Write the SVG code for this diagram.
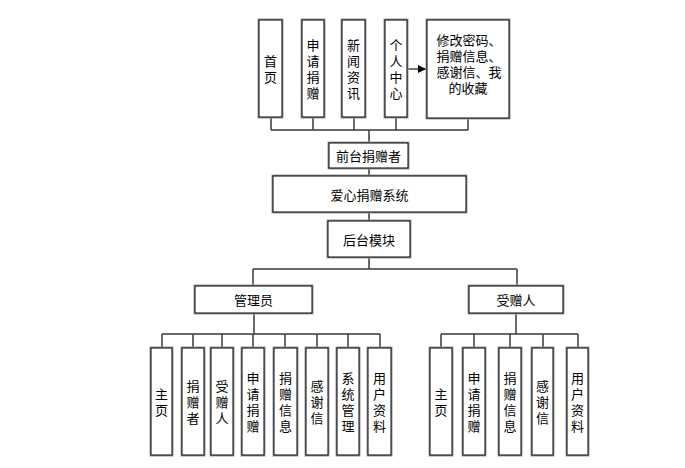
<svg xmlns="http://www.w3.org/2000/svg" width="685" height="468" viewBox="0 0 685 468">
<style>
.bx{fill:#fff;stroke:#000;stroke-width:1}
.sh{fill:none;stroke:#9a9a9a;stroke-width:3}
.t{font-family:"Noto Sans CJK SC","Microsoft YaHei",sans-serif;font-size:13px;fill:#000;text-anchor:middle;dominant-baseline:central}
.m{font-family:"Liberation Sans","Noto Sans CJK SC",sans-serif;font-size:13px;fill:#000;text-anchor:middle;dominant-baseline:central}
.c{fill:none;stroke:#3a3a3a;stroke-width:1.5}
</style>
<defs>
<marker id="ah" viewBox="0 0 10 10" refX="10" refY="5" markerWidth="10" markerHeight="8" markerUnits="userSpaceOnUse" orient="auto">
<path d="M0,0 L10,5 L0,10 z" fill="#000"/>
</marker>
</defs>
<rect width="685" height="468" fill="#fff"/>
<g id="connectors">
<path class="c" d="M271,117V130M313,117V130M354,117V130M396,117V130M468,118V130M271,130H468M369,130V143"/>
<path class="c" d="M369,168V176M369,212V221M369,257V269M253,269H517M253,269V286M517,269V286"/>
<path class="c" d="M254,313V334M162,334H380M162,334V348M193,334V348M222,334V348M253,334V348M285,334V348M317,334V348M348,334V348M380,334V348"/>
<path class="c" d="M516,313V334M441,334H578M441,334V348M474,334V348M510,334V348M543,334V348M578,334V348"/>
<path d="M407,69H426" stroke="#777" stroke-width="2" fill="none" marker-end="url(#ah)"/>
</g>
<g id="n-shouye">
<rect class="sh" x="259" y="20" width="23" height="97"/><rect class="bx" x="259" y="20" width="23" height="97"/>
<text class="m"><tspan x="270.5" y="60.5">首</tspan><tspan x="270.5" y="76.5">页</tspan></text>
</g>
<g id="n-shenqing">
<rect class="sh" x="302" y="20" width="22" height="97"/><rect class="bx" x="302" y="20" width="22" height="97"/>
<text class="m"><tspan x="313" y="44.5">申</tspan><tspan x="313" y="60.5">请</tspan><tspan x="313" y="76.5">捐</tspan><tspan x="313" y="92.5">赠</tspan></text>
</g>
<g id="n-xinwen">
<rect class="sh" x="342" y="20" width="23" height="97"/><rect class="bx" x="342" y="20" width="23" height="97"/>
<text class="m"><tspan x="353.5" y="44.5">新</tspan><tspan x="353.5" y="60.5">闻</tspan><tspan x="353.5" y="76.5">资</tspan><tspan x="353.5" y="92.5">讯</tspan></text>
</g>
<g id="n-geren">
<rect class="sh" x="385" y="20" width="22" height="97"/><rect class="bx" x="385" y="20" width="22" height="97"/>
<text class="m"><tspan x="396" y="44.5">个</tspan><tspan x="396" y="60.5">人</tspan><tspan x="396" y="76.5">中</tspan><tspan x="396" y="92.5">心</tspan></text>
</g>
<g id="n-xiugai">
<rect class="sh" x="427" y="20" width="82" height="98"/><rect class="bx" x="427" y="20" width="82" height="98"/>
<text class="m" x="469" y="40">修改密码、</text>
<text class="m" x="469" y="56">捐赠信息、</text>
<text class="m" x="469" y="72">感谢信、我</text>
<text class="m" x="468" y="88">的收藏</text>
</g>
<g id="n-qiantai">
<rect class="sh" x="329" y="143" width="79" height="25"/><rect class="bx" x="329" y="143" width="79" height="25"/>
<text class="t" x="368.5" y="155.5">前台捐赠者</text>
</g>
<g id="n-xitong">
<rect class="sh" x="273" y="176" width="193" height="36"/><rect class="bx" x="273" y="176" width="193" height="36"/>
<text class="t" x="369.5" y="194">爱心捐赠系统</text>
</g>
<g id="n-houtai">
<rect class="sh" x="328" y="221" width="82" height="36"/><rect class="bx" x="328" y="221" width="82" height="36"/>
<text class="t" x="369" y="239">后台模块</text>
</g>
<g id="n-guanli">
<rect class="sh" x="195" y="286" width="117" height="27"/><rect class="bx" x="195" y="286" width="117" height="27"/>
<text class="t" x="253.5" y="299.5">管理员</text>
</g>
<g id="n-shouzeng">
<rect class="sh" x="469" y="286" width="94" height="27"/><rect class="bx" x="469" y="286" width="94" height="27"/>
<text class="t" x="516" y="299.5">受赠人</text>
</g>
<g id="a-zhuye">
<rect class="sh" x="151" y="348" width="21" height="107"/><rect class="bx" x="151" y="348" width="21" height="107"/>
<text class="m"><tspan x="161.5" y="393.5">主</tspan><tspan x="161.5" y="409.5">页</tspan></text>
</g>
<g id="a-juanzengzhe">
<rect class="sh" x="182" y="348" width="22" height="107"/><rect class="bx" x="182" y="348" width="22" height="107"/>
<text class="m"><tspan x="193" y="385.5">捐</tspan><tspan x="193" y="401.5">赠</tspan><tspan x="193" y="417.5">者</tspan></text>
</g>
<g id="a-shouzengren">
<rect class="sh" x="211" y="348" width="22" height="107"/><rect class="bx" x="211" y="348" width="22" height="107"/>
<text class="m"><tspan x="222" y="385.5">受</tspan><tspan x="222" y="401.5">赠</tspan><tspan x="222" y="417.5">人</tspan></text>
</g>
<g id="a-shenqing">
<rect class="sh" x="242" y="348" width="22" height="107"/><rect class="bx" x="242" y="348" width="22" height="107"/>
<text class="m"><tspan x="253" y="377.5">申</tspan><tspan x="253" y="393.5">请</tspan><tspan x="253" y="409.5">捐</tspan><tspan x="253" y="425.5">赠</tspan></text>
</g>
<g id="a-xinxi">
<rect class="sh" x="274" y="348" width="23" height="107"/><rect class="bx" x="274" y="348" width="23" height="107"/>
<text class="m"><tspan x="285.5" y="377.5">捐</tspan><tspan x="285.5" y="393.5">赠</tspan><tspan x="285.5" y="409.5">信</tspan><tspan x="285.5" y="425.5">息</tspan></text>
</g>
<g id="a-ganxie">
<rect class="sh" x="306" y="348" width="22" height="107"/><rect class="bx" x="306" y="348" width="22" height="107"/>
<text class="m"><tspan x="317" y="385.5">感</tspan><tspan x="317" y="401.5">谢</tspan><tspan x="317" y="417.5">信</tspan></text>
</g>
<g id="a-xitong">
<rect class="sh" x="337" y="348" width="22" height="107"/><rect class="bx" x="337" y="348" width="22" height="107"/>
<text class="m"><tspan x="348" y="377.5">系</tspan><tspan x="348" y="393.5">统</tspan><tspan x="348" y="409.5">管</tspan><tspan x="348" y="425.5">理</tspan></text>
</g>
<g id="a-ziliao">
<rect class="sh" x="368" y="348" width="23" height="107"/><rect class="bx" x="368" y="348" width="23" height="107"/>
<text class="m"><tspan x="379.5" y="377.5">用</tspan><tspan x="379.5" y="393.5">户</tspan><tspan x="379.5" y="409.5">资</tspan><tspan x="379.5" y="425.5">料</tspan></text>
</g>
<g id="b-zhuye">
<rect class="sh" x="430" y="348" width="22" height="107"/><rect class="bx" x="430" y="348" width="22" height="107"/>
<text class="m"><tspan x="441" y="393.5">主</tspan><tspan x="441" y="409.5">页</tspan></text>
</g>
<g id="b-shenqing">
<rect class="sh" x="463" y="348" width="22" height="107"/><rect class="bx" x="463" y="348" width="22" height="107"/>
<text class="m"><tspan x="474" y="377.5">申</tspan><tspan x="474" y="393.5">请</tspan><tspan x="474" y="409.5">捐</tspan><tspan x="474" y="425.5">赠</tspan></text>
</g>
<g id="b-xinxi">
<rect class="sh" x="499" y="348" width="22" height="107"/><rect class="bx" x="499" y="348" width="22" height="107"/>
<text class="m"><tspan x="510" y="377.5">捐</tspan><tspan x="510" y="393.5">赠</tspan><tspan x="510" y="409.5">信</tspan><tspan x="510" y="425.5">息</tspan></text>
</g>
<g id="b-ganxie">
<rect class="sh" x="532" y="348" width="21" height="107"/><rect class="bx" x="532" y="348" width="21" height="107"/>
<text class="m"><tspan x="542.5" y="385.5">感</tspan><tspan x="542.5" y="401.5">谢</tspan><tspan x="542.5" y="417.5">信</tspan></text>
</g>
<g id="b-ziliao">
<rect class="sh" x="567" y="348" width="21" height="107"/><rect class="bx" x="567" y="348" width="21" height="107"/>
<text class="m"><tspan x="577.5" y="377.5">用</tspan><tspan x="577.5" y="393.5">户</tspan><tspan x="577.5" y="409.5">资</tspan><tspan x="577.5" y="425.5">料</tspan></text>
</g>
</svg>
